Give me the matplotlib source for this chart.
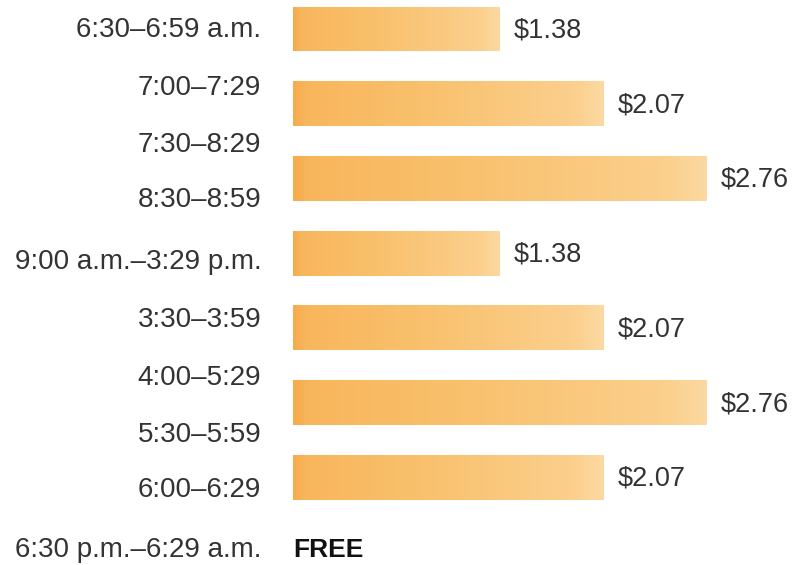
import matplotlib.pyplot as plt
import numpy as np
from matplotlib.colors import LinearSegmentedColormap

# toll by time of day
prices = [1.38, 2.07, 2.76, 1.38, 2.07, 2.76, 2.07]
price_labels = ["$1.38", "$2.07", "$2.76", "$1.38", "$2.07", "$2.76", "$2.07"]
time_labels = ["6:30–6:59 a.m.", "7:00–7:29", "7:30–8:29", "8:30–8:59",
               "9:00 a.m.–3:29 p.m.", "3:30–3:59", "4:00–5:29", "5:30–5:59",
               "6:00–6:29", "6:30 p.m.–6:29 a.m."]
# vertical slot of each time label (bars sit at 0..6)
label_rows = [0.01, 0.79, 1.55, 2.29, 3.12, 3.89, 4.67, 5.43, 6.17, 6.97]
free_text = "FREE"

plt.rcParams['font.family'] = ['Liberation Sans', 'DejaVu Sans']

fig = plt.figure(figsize=(7.92, 5.65), dpi=100)
ax = fig.add_axes([0, 0, 1, 1])
ax.axis("off")

# orange ramp: darker left edge, pale right end
grad = LinearSegmentedColormap.from_list(
    "toll", [(0.0, "#f6ab4c"), (0.04, "#f8b65c"), (0.4, "#f9c06c"),
             (0.9, "#fbcf8c"), (1.0, "#fcd9a2")])
ramp = np.linspace(0, 1, 256).reshape(1, -1)

ypos = np.arange(len(prices))
bars = ax.barh(ypos, prices, height=0.6, color="none", edgecolor="none")
for bar in bars:
    x0, y0 = bar.get_x(), bar.get_y()
    w, h = bar.get_width(), bar.get_height()
    im = ax.imshow(ramp, cmap=grad, aspect="auto", interpolation="bicubic",
                   extent=(x0, x0 + w, y0 + h, y0), zorder=2)
    im.set_clip_path(bar)

ax.set_xlim(-1.953, 3.327)
ax.set_ylim(7.175, -0.388)

for y, p, s in zip(ypos, prices, price_labels):
    ax.text(p + 0.095, y + 0.02, s, ha="left", va="center", fontsize=19.5,
            color="#333333")

for y, s in zip(label_rows, time_labels):
    ax.text(-0.21, y, s, ha="right", va="center", fontsize=20,
            color="#333333")

ax.text(0, label_rows[-1], free_text, ha="left", va="center", fontsize=19,
        fontweight="bold", color="#111111")

fig.savefig("out.png", dpi=100)
